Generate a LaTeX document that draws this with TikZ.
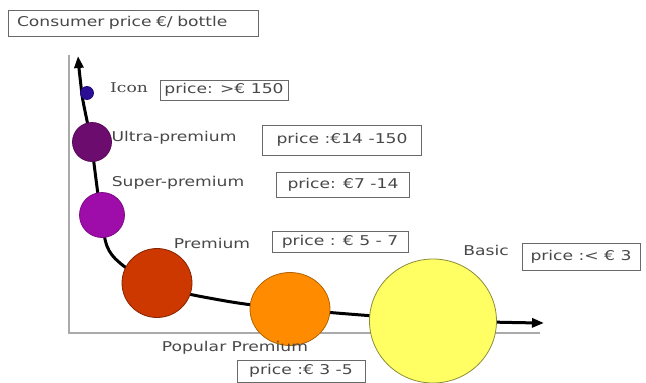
\documentclass[tikz,border=0pt]{standalone}
\usepackage{fontspec}
\usetikzlibrary{arrows.meta,shapes.geometric}
\newfontfamily\lblfont[FakeStretch=1.27]{DejaVu Sans}
\newfontfamily\serfont[FakeStretch=1.27]{DejaVu Serif}
\definecolor{txtgray}{RGB}{72,72,72}
\definecolor{boxgray}{RGB}{105,105,105}
\definecolor{axisgray}{RGB}{170,170,170}
\definecolor{iconc}{RGB}{42,14,150}
\definecolor{ultrac}{RGB}{108,12,110}
\definecolor{superc}{RGB}{158,12,170}
\definecolor{premc}{RGB}{205,55,0}
\definecolor{popc}{RGB}{255,140,0}
\definecolor{basicc}{RGB}{255,255,100}
\begin{document}
\begin{tikzpicture}[x=1pt,y=-1pt,
  lbl/.style={font=\lblfont\fontsize{13.5pt}{16pt}\selectfont, text=txtgray, inner sep=0pt},
  serlbl/.style={font=\serfont\fontsize{13.5pt}{16pt}\selectfont, text=txtgray, inner sep=0pt},
  pricebox/.style={lbl, draw=boxgray, line width=1pt},
  ball/.style={ellipse, inner sep=0pt, line width=0.8pt},
  curve/.style={line width=3pt, black, {Triangle[length=12pt,width=9pt]}-{Triangle[length=12pt,width=9pt]}},
  axis/.style={axisgray, line width=1.6pt}]
\useasboundingbox (0,0) rectangle (646,383);
\fill[white] (0,0) rectangle (646,383);

% title
\node[pricebox, text width=232pt, align=left, inner xsep=9pt, minimum height=26pt] (title) at (133,23) {Consumer price €/ bottle};

% gray axes
\coordinate (atop) at (69,55);
\coordinate (aorig) at (69,333);
\coordinate (aright) at (540,333);
\draw[axis] (atop) -- (aorig) -- (aright);

% curve way points
\coordinate (ctop) at (78,56);
\coordinate (c1) at (82,95);
\coordinate (c2) at (91,142);
\coordinate (c3) at (101,214);
\coordinate (c4) at (112,255);
\coordinate (c5) at (157,285);
\coordinate (c6) at (220,300);
\coordinate (c7) at (290,309);
\coordinate (c8) at (433,320);
\coordinate (cend) at (544,323);
\draw[curve] plot[smooth, tension=0.55] coordinates {(ctop) (c1) (c2) (c3) (c4) (c5) (c6) (c7) (c8) (cend)};

% circles
\node[ball, fill=iconc, draw=iconc!80!black, minimum width=13pt, minimum height=13pt] (icon) at (87,93) {};
\node[ball, fill=ultrac, draw=ultrac!80!black, minimum width=39pt, minimum height=39pt] (ultra) at (92,142) {};
\node[ball, fill=superc, draw=superc!80!black, minimum width=45pt, minimum height=45pt] (super) at (102,215) {};
\node[ball, fill=premc, draw=premc!65!black, minimum width=70pt, minimum height=69pt] (prem) at (157,283) {};
\node[ball, fill=popc, draw=popc!70!black, minimum width=80pt, minimum height=73pt] (pop) at (290,309) {};
\node[ball, fill=basicc, draw=basicc!55!black, minimum width=127pt, minimum height=124pt] (basic) at (433,321) {};

% labels
\node[serlbl] (iconl) at (129,88) {Icon};
\node[lbl] (ultral) at (174,138) {Ultra-premium};
\node[lbl] (superl) at (178,183) {Super-premium};
\node[lbl] (preml) at (212,243) {Premium};
\node[lbl] (basicl) at (486,250) {Basic};
\node[lbl] (popl) at (235,348) {Popular Premium};

% price boxes
\node[pricebox, minimum width=128pt, minimum height=20pt] (iconp) at (224,90) {price: >€ 150};
\node[pricebox, minimum width=159pt, minimum height=30pt] (ultrap) at (342,140) {price :€14 -150};
\node[pricebox, minimum width=133pt, minimum height=25pt] (superp) at (343,185) {price: €7 -14};
\node[pricebox, minimum width=136pt, minimum height=21pt] (premp) at (340,242) {price : € 5 - 7};
\node[pricebox, minimum width=118pt, minimum height=27pt] (basicp) at (581,257) {price :< € 3};
\node[pricebox, minimum width=128pt, minimum height=22pt] (popp) at (301,371) {price :€ 3 -5};
\end{tikzpicture}
\end{document}
